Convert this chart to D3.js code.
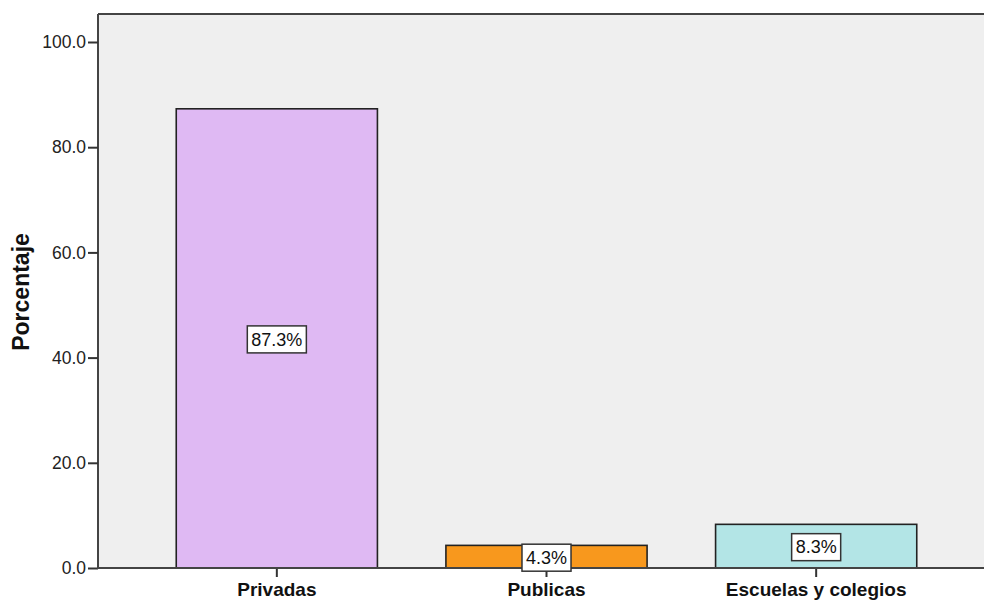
<!DOCTYPE html>
<html><head><meta charset="utf-8">
<script src="https://cdn.jsdelivr.net/npm/d3@7"></script>
<style>body{margin:0;background:#fff}svg{display:block}</style>
</head><body>
<script>
const categories = ["Privadas", "Publicas", "Escuelas y colegios"];
const values = [87.3, 4.3, 8.3];
const labels = ["87.3%", "4.3%", "8.3%"];
const colors = ["#DFB9F3", "#F8981D", "#B3E5E6"];
const yTicks = [0, 20, 40, 60, 80, 100];
const yTitle = "Porcentaje";

const W = 984, H = 603;
const plot = {left: 98, top: 14, right: 984, bottom: 568};
const svg = d3.select("body").append("svg").attr("width", W).attr("height", H);

const y = d3.scaleLinear().domain([0, 100]).range([568, 42]);
const x = d3.scaleBand().domain(categories).range([142, 951]).paddingInner(0.254).paddingOuter(0.127);

svg.append("rect").attr("x", plot.left).attr("y", plot.top)
  .attr("width", plot.right - plot.left).attr("height", plot.bottom - plot.top)
  .attr("fill", "#EFEFEF");

// bars
svg.selectAll("rect.bar").data(values).join("rect").attr("class", "bar")
  .attr("x", (d, i) => x(categories[i]))
  .attr("width", x.bandwidth())
  .attr("y", d => y(d))
  .attr("height", d => y(0) - y(d))
  .attr("fill", (d, i) => colors[i])
  .attr("stroke", "#222").attr("stroke-width", 1.6);

// frame lines
svg.append("line").attr("x1", plot.left).attr("x2", plot.right).attr("y1", plot.top).attr("y2", plot.top)
  .attr("stroke", "#444").attr("stroke-width", 2);
svg.append("line").attr("x1", plot.left).attr("x2", plot.left).attr("y1", plot.top).attr("y2", plot.bottom)
  .attr("stroke", "#444").attr("stroke-width", 2);

// y axis
const yAxis = d3.axisLeft(y).tickValues(yTicks).tickFormat(d3.format(".1f")).tickSize(10).tickPadding(2);
const gy = svg.append("g").attr("transform", `translate(${plot.left},0)`).call(yAxis);
gy.select(".domain").remove();
gy.selectAll(".tick line").attr("stroke", "#333").attr("stroke-width", 2);
gy.selectAll(".tick text").attr("fill", "#222").style("font-family", "Liberation Sans, Arial, sans-serif").style("font-size", "17.5px");

// x axis
const xAxis = d3.axisBottom(x).tickSize(9).tickPadding(6);
const gx = svg.append("g").attr("transform", `translate(0,${plot.bottom})`).call(xAxis);
gx.select(".domain").remove();
gx.selectAll(".tick line").attr("stroke", "#333").attr("stroke-width", 2);
gx.selectAll(".tick text").attr("fill", "#111").style("font-family", "Liberation Sans, Arial, sans-serif")
  .style("font-size", "19px").style("font-weight", "bold");
svg.append("line").attr("x1", plot.left - 1).attr("x2", plot.right).attr("y1", plot.bottom).attr("y2", plot.bottom)
  .attr("stroke", "#444").attr("stroke-width", 2);

// y title
svg.append("text").attr("transform", `translate(29,292) rotate(-90)`)
  .attr("text-anchor", "middle")
  .style("font-family", "Liberation Sans, Arial, sans-serif").style("font-size", "23px").style("font-weight", "bold")
  .attr("fill", "#111").text(yTitle);

// value labels
const lg = svg.selectAll("g.lab").data(values).join("g").attr("class", "lab")
  .attr("transform", (d, i) => `translate(${x(categories[i]) + x.bandwidth() / 2},${(y(d) + y(0)) / 2 + 1})`);
lg.append("text").attr("text-anchor", "middle").attr("dy", "0.35em")
  .style("font-family", "Liberation Sans, Arial, sans-serif").style("font-size", "18px")
  .attr("fill", "#111").text((d, i) => labels[i]);
lg.each(function() {
  const g = d3.select(this);
  const b = g.select("text").node().getBBox();
  g.insert("rect", "text").attr("x", b.x - 4).attr("y", -13.5).attr("width", b.width + 8).attr("height", 27)
    .attr("fill", "#fff").attr("stroke", "#333").attr("stroke-width", 1.5);
});
</script>
</body></html>
